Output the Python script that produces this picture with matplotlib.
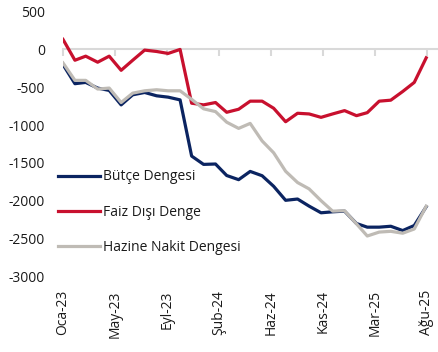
import numpy as np
import pandas as pd
import matplotlib
matplotlib.use('Agg')
import matplotlib.pyplot as plt
import matplotlib.dates as mdates

plt.rcParams['font.family'] = ['Open Sans', 'DejaVu Sans']
plt.rcParams['axes.unicode_minus'] = False

# monthly series, Oca-23 .. Ağu-25
months = pd.date_range('2023-01-01', '2025-08-01', freq='MS')

butce = [-200, -453, -436, -511, -542, -733, -600, -569, -613, -631, -667,
         -1410, -1520, -1515, -1667, -1722, -1613, -1670, -1810, -1995, -1978,
         -2072, -2160, -2147, -2138, -2302, -2350, -2350, -2338, -2395, -2328, -2080]
faiz_disi = [133, -143, -89, -169, -89, -276, -143, -9, -27, -53, 0,
             -711, -733, -702, -831, -791, -684, -684, -778, -956, -844,
             -853, -898, -853, -809, -876, -836, -684, -671, -556, -436, -111]
hazine = [-178, -409, -409, -524, -511, -702, -578, -547, -533, -547, -547,
          -660, -785, -822, -962, -1044, -978, -1210, -1367, -1611, -1760,
          -1844, -2000, -2138, -2133, -2306, -2467, -2415, -2405, -2430, -2374, -2073]

tick_labels = ['Oca-23', 'May-23', 'Eyl-23', 'Şub-24', 'Haz-24', 'Kas-24', 'Mar-25', 'Ağu-25']

c_blue = '#0b2461'
c_red = '#c8102e'
c_gray = '#bfbbb5'
txt = '#1a1a1a'

fig = plt.figure(figsize=(4.38, 3.52), dpi=100)
ax = fig.add_axes([0.1438, 0.215, 0.8539, 0.752])

ax.plot(months, butce, color=c_blue, lw=2.3, label='Bütçe Dengesi', solid_joinstyle='round')
ax.plot(months, faiz_disi, color=c_red, lw=2.3, label='Faiz Dışı Denge', solid_joinstyle='round')
ax.plot(months, hazine, color=c_gray, lw=2.3, label='Hazine Nakit Dengesi', solid_joinstyle='round')

start = pd.Timestamp('2023-01-01')
tick_dates = [start + pd.Timedelta(days=135 * i) for i in range(len(tick_labels))]
tick_nums = mdates.date2num(tick_dates)

ax.set_xlim(mdates.date2num(start), mdates.date2num(start + pd.Timedelta(days=971)))
ax.set_ylim(-3000, 500)
ax.set_yticks(np.arange(-3000, 501, 500))
ax.tick_params(axis='y', length=0, pad=13, labelsize=10, labelcolor=txt)

for s in ['top', 'right', 'left']:
    ax.spines[s].set_visible(False)
ax.spines['bottom'].set_position(('data', 0))
ax.spines['bottom'].set_color('#d9d9d9')
ax.spines['bottom'].set_linewidth(1.5)
ax.spines['bottom'].set_zorder(0.5)
ax.set_xticks(tick_nums)
ax.tick_params(axis='x', direction='out', length=5, width=1.5, color='#d9d9d9',
               labelbottom=False)

sec = ax.secondary_xaxis('bottom')
sec.set_xticks(tick_nums, tick_labels)
sec.spines['bottom'].set_visible(False)
sec.tick_params(axis='x', length=0, pad=10, labelsize=10, labelcolor=txt, labelrotation=90)

leg = ax.legend(loc='upper left', bbox_to_anchor=(-0.013, 0.404), frameon=False,
                handlelength=3.0, handletextpad=0.2, labelspacing=1.47,
                borderpad=0, borderaxespad=0, fontsize=10)
for t in leg.get_texts():
    t.set_color(txt)

fig.savefig('out.png', dpi=100)
